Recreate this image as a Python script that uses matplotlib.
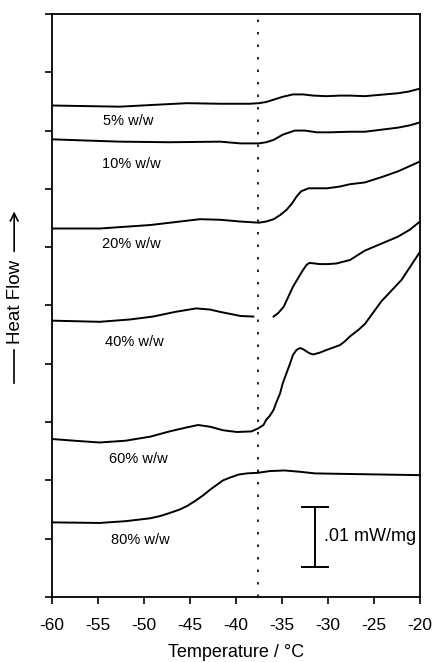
import numpy as np
import matplotlib.pyplot as plt

plt.rcParams['font.family'] = ['Liberation Sans', 'DejaVu Sans']
plt.rcParams['axes.unicode_minus'] = False

# DSC traces, heat flow in arbitrary tick units (offset per curve)
t5 = [-60, -56.4, -52.6, -49.0, -45.3, -41.7, -39.5, -38.5, -37.5, -36.7, -35.9, -34.9, -33.8, -32.7,
      -31.6, -30.1, -28.7, -27.6, -26.0, -22.4, -21.2, -20]
hf5 = [8.43, 8.42, 8.41, 8.44, 8.47, 8.46, 8.46, 8.46, 8.47, 8.49, 8.53, 8.58, 8.62, 8.62,
       8.60, 8.59, 8.60, 8.60, 8.59, 8.64, 8.67, 8.72]

t10 = [-60, -56.4, -52.6, -47.2, -41.7, -39.5, -38.5, -37.5, -36.7, -35.9, -34.9, -33.6, -32.5,
       -31.2, -29.8, -27.6, -26.0, -22.4, -21.1, -20]
hf10 = [7.85, 7.83, 7.81, 7.80, 7.81, 7.78, 7.78, 7.78, 7.80, 7.84, 7.93, 8.00, 8.00,
        7.97, 7.97, 7.98, 7.98, 8.05, 8.09, 8.14]

t20 = [-60, -54.8, -49.3, -46.6, -43.9, -41.7, -39.5, -37.5, -36.7, -35.9, -35.2, -34.5, -33.9,
       -33.4, -32.9, -32.1, -31.2, -30.1, -28.7, -27.6, -26.0, -24.2, -22.4, -20]
hf20 = [6.32, 6.32, 6.38, 6.43, 6.48, 6.47, 6.44, 6.42, 6.44, 6.48, 6.55, 6.64, 6.75,
        6.87, 6.96, 7.01, 7.01, 7.01, 7.04, 7.08, 7.11, 7.20, 7.30, 7.47]

t40 = [-60, -54.8, -51.5, -49.0, -46.6, -44.3, -42.8, -41.7, -39.5, -38.1, -37.0, -35.9, -35.4,
       -34.8, -34.3, -33.8, -33.2, -32.7, -32.3, -32.0, -31.4, -30.9, -30.0, -29.1, -27.6,
       -26.0, -24.2, -22.4, -21.1, -20]
hf40 = [4.74, 4.72, 4.76, 4.81, 4.89, 4.95, 4.93, 4.89, 4.82, 4.81, np.nan, 4.81, 4.87,
        4.98, 5.15, 5.32, 5.48, 5.61, 5.70, 5.73, 5.72, 5.71, 5.71, 5.72, 5.78,
        5.94, 6.06, 6.18, 6.30, 6.44]

t60 = [-60, -57.5, -54.8, -52.0, -49.3, -47.2, -45.3, -44.1, -42.8, -41.4, -39.9, -38.3, -37.6,
       -37.0, -36.7, -36.3, -35.9, -35.6, -35.2, -34.9, -34.5, -34.1, -33.8, -33.4, -33.0,
       -32.7, -32.3, -32.0, -31.6, -30.9, -30.1, -29.4, -28.7, -28.2, -27.6, -26.7, -26.0,
       -24.2, -22.0, -21.0, -20]
hf60 = [2.71, 2.68, 2.65, 2.68, 2.75, 2.84, 2.91, 2.95, 2.92, 2.86, 2.83, 2.84, 2.89,
        2.95, 3.04, 3.11, 3.21, 3.34, 3.49, 3.67, 3.84, 4.01, 4.15, 4.24, 4.27,
        4.25, 4.21, 4.18, 4.16, 4.19, 4.24, 4.28, 4.32, 4.38, 4.47, 4.58, 4.68,
        5.07, 5.44, 5.68, 5.92]

t80 = [-60, -54.8, -52.0, -49.3, -48.2, -47.2, -46.1, -45.3, -44.4, -43.5, -42.8, -42.1, -41.4,
       -40.6, -39.7, -38.8, -37.6, -36.3, -34.7, -33.2, -31.4, -27.8, -20]
hf80 = [1.28, 1.27, 1.30, 1.35, 1.39, 1.44, 1.50, 1.56, 1.65, 1.75, 1.84, 1.92, 2.00,
        2.05, 2.10, 2.12, 2.13, 2.16, 2.17, 2.15, 2.12, 2.11, 2.09]

labels = ['5% w/w', '10% w/w', '20% w/w', '40% w/w', '60% w/w', '80% w/w']
label_t = [-51.7, -51.4, -51.3, -51.0, -50.6, -50.4]
label_hf = [8.17, 7.43, 6.06, 4.38, 2.37, 0.98]

tg_line = -37.6           # dotted reference line
bar_t = -31.4             # scale bar position
bar_lo, bar_hi = 0.52, 1.55

fig = plt.figure(figsize=(4.35, 6.62), dpi=100)
ax = fig.add_axes([0.1189, 0.0982, 0.8466, 0.8807])

for t, hf in [(t5, hf5), (t10, hf10), (t20, hf20), (t40, hf40), (t60, hf60), (t80, hf80)]:
    ax.plot(t, hf, color='black', lw=1.4, solid_joinstyle='round')

for lab, x, y in zip(labels, label_t, label_hf):
    ax.text(x, y, lab, fontsize=10.5, ha='center', va='center')

ax.axvline(tg_line, color='black', lw=1.2, linestyle=(0, (1.5, 6)))

# scale bar
ax.plot([bar_t, bar_t], [bar_lo, bar_hi], color='black', lw=1.4)
ax.plot([bar_t - 1.4, bar_t + 1.4], [bar_hi, bar_hi], color='black', lw=1.4)
ax.plot([bar_t - 1.4, bar_t + 1.4], [bar_lo, bar_lo], color='black', lw=1.4)
ax.text(bar_t + 0.95, (bar_lo + bar_hi) / 2, '.01 mW/mg', fontsize=13, ha='left', va='center')

ax.set_xlim(-60, -20)
ax.set_ylim(0, 10)
ax.set_xticks(np.arange(-60, -19, 5))
ax.set_yticks(np.arange(0, 11, 1))
ax.set_yticklabels([])
ax.tick_params(axis='both', direction='out', length=5, width=1.2, colors='black')
ax.tick_params(axis='x', labelsize=12.5, pad=10)
for s in ax.spines.values():
    s.set_linewidth(1.3)

ax.set_xlabel('Temperature / °C', fontsize=13, labelpad=8)

# Heat Flow label with arrow
ax.text(-0.098, 0.506, 'Heat Flow', transform=ax.transAxes, rotation=90,
        fontsize=13.5, ha='center', va='center')
ax.annotate('', xy=(-0.102, 0.666), xytext=(-0.102, 0.588), xycoords='axes fraction',
            arrowprops=dict(arrowstyle='->', color='black', lw=1.2, mutation_scale=14))
ax.plot([-0.102, -0.102], [0.367, 0.424], transform=ax.transAxes, color='black',
        lw=1.2, clip_on=False)

fig.savefig('out.png', dpi=100)
